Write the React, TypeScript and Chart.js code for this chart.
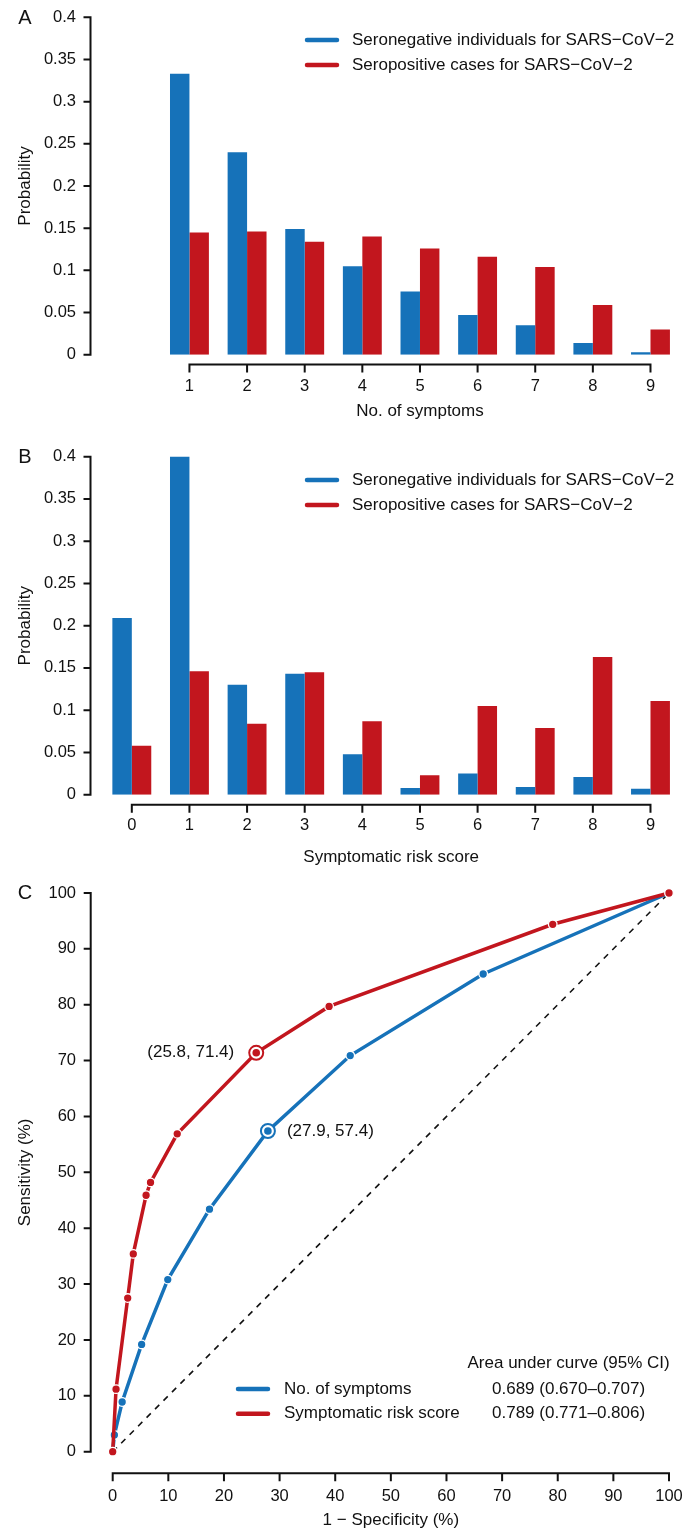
import React, { useEffect, useRef } from 'react';
import { Chart, registerables } from 'chart.js';

Chart.register(...registerables);

// ---------- data ----------
const symptomCategories = ['0', '1', '2', '3', '4', '5', '6', '7', '8', '9'];
const symptomsSeroneg = [null, 0.333, 0.240, 0.149, 0.105, 0.075, 0.047, 0.035, 0.014, 0.003];
const symptomsSeropos = [null, 0.145, 0.146, 0.134, 0.140, 0.126, 0.116, 0.104, 0.059, 0.030];

const scoreCategories = ['0', '1', '2', '3', '4', '5', '6', '7', '8', '9'];
const scoreSeroneg = [0.209, 0.402, 0.130, 0.143, 0.048, 0.008, 0.025, 0.009, 0.021, 0.007];
const scoreSeropos = [0.058, 0.146, 0.084, 0.145, 0.087, 0.023, 0.105, 0.079, 0.163, 0.111];

const probTicks = [0, 0.05, 0.1, 0.15, 0.2, 0.25, 0.3, 0.35, 0.4];

const rocSymptomsX = [0, 0.3, 1.7, 5.2, 9.9, 17.4, 27.9, 42.7, 66.6, 100];
const rocSymptomsY = [0, 3.0, 8.9, 19.2, 30.8, 43.4, 57.4, 70.9, 85.5, 100];
const rocScoreX = [0, 0.6, 2.7, 3.7, 6.0, 6.8, 11.6, 25.8, 38.9, 79.1, 100];
const rocScoreY = [0, 11.2, 27.5, 35.4, 45.9, 48.2, 56.9, 71.4, 79.7, 94.4, 100];
const optimalSymptoms = [27.9, 57.4];
const optimalScore = [25.8, 71.4];
const diagonalX = [0, 100];
const diagonalY = [0, 100];
const rocTicks = [0, 10, 20, 30, 40, 50, 60, 70, 80, 90, 100];

const legendBars = ['Seronegative individuals for SARS\u2212CoV\u22122', 'Seropositive cases for SARS\u2212CoV\u22122'];
const legendRoc = ['No. of symptoms', 'Symptomatic risk score'];
const aucHeader = 'Area under curve (95% CI)';
const aucValues = ['0.689 (0.670\u20130.707)', '0.789 (0.771\u20130.806)'];

// ---------- styles ----------
const BLUE = '#1672B9';
const RED = '#C2161E';
const FONT = '"Liberation Sans", Arial, Helvetica, sans-serif';
const TICK_FS = 16.5;
const FS = 17;
const W = 684;

function axesPlugin(cfg: any) {
  return {
    id: 'rAxes',
    afterDraw(chart: any) {
      const { ctx } = chart;
      const xs = chart.scales.x;
      const ys = chart.scales.y;
      ctx.save();
      ctx.strokeStyle = '#111';
      ctx.lineWidth = 2;
      ctx.lineCap = 'butt';
      const yTop = ys.getPixelForValue(cfg.yTicks[cfg.yTicks.length - 1]);
      const yBot = ys.getPixelForValue(cfg.yTicks[0]);
      ctx.beginPath();
      ctx.moveTo(cfg.yAxisX, yTop - 1);
      ctx.lineTo(cfg.yAxisX, yBot + 1);
      for (const v of cfg.yTicks) {
        const p = ys.getPixelForValue(v);
        ctx.moveTo(cfg.yAxisX - 7, p);
        ctx.lineTo(cfg.yAxisX, p);
      }
      ctx.stroke();
      const xl = xs.getPixelForValue(cfg.xTicks[0]);
      const xr = xs.getPixelForValue(cfg.xTicks[cfg.xTicks.length - 1]);
      ctx.beginPath();
      ctx.moveTo(xl - 1, cfg.xAxisY);
      ctx.lineTo(xr + 1, cfg.xAxisY);
      for (const v of cfg.xTicks) {
        const p = xs.getPixelForValue(v);
        ctx.moveTo(p, cfg.xAxisY);
        ctx.lineTo(p, cfg.xAxisY + 8);
      }
      ctx.stroke();
      // tick labels, from the scales' own ticks
      ctx.fillStyle = '#111';
      ctx.font = `${TICK_FS}px ${FONT}`;
      ctx.textBaseline = 'middle';
      ctx.textAlign = 'right';
      ys.ticks.forEach((t: any, i: number) => {
        const lbl = cfg.yLabel ? cfg.yLabel(t.value) : String(t.label);
        ctx.fillText(lbl, cfg.yLabelRight, ys.getPixelForTick(i));
      });
      ctx.textAlign = 'center';
      xs.ticks.forEach((t: any, i: number) => {
        const v = t.value;
        if (!cfg.xTicks.includes(v)) return;
        const lbl = cfg.xLabel ? cfg.xLabel(v) : String(t.label);
        ctx.fillText(lbl, xs.getPixelForValue(v), cfg.xLabelY);
      });
      ctx.restore();
    },
  };
}

function textPlugin(draw: (chart: any, ctx: CanvasRenderingContext2D) => void) {
  return {
    id: 'extras',
    afterDraw(chart: any) {
      const ctx = chart.ctx;
      ctx.save();
      draw(chart, ctx);
      ctx.restore();
    },
  };
}

function drawCommon(ctx: CanvasRenderingContext2D, letter: string, letterY: number, yTitle: string, yTitleY: number, xTitle: string, xTitleX: number, xTitleY: number) {
  ctx.fillStyle = '#111';
  ctx.font = `20px ${FONT}`;
  ctx.textAlign = 'center';
  ctx.textBaseline = 'middle';
  ctx.fillText(letter, 25, letterY);
  ctx.font = `${FS}px ${FONT}`;
  ctx.fillText(xTitle, xTitleX, xTitleY);
  ctx.save();
  ctx.translate(25, yTitleY);
  ctx.rotate(-Math.PI / 2);
  ctx.fillText(yTitle, 0, 0);
  ctx.restore();
}

function drawLegend(ctx: CanvasRenderingContext2D, items: { label: string; color: string }[], x0: number, x1: number, tx: number, ys: number[]) {
  items.forEach((it, i) => {
    ctx.strokeStyle = it.color;
    ctx.lineWidth = 4.5;
    ctx.lineCap = 'round';
    ctx.beginPath();
    ctx.moveTo(x0 + 2, ys[i]);
    ctx.lineTo(x1 - 2, ys[i]);
    ctx.stroke();
    ctx.fillStyle = '#111';
    ctx.font = `${FS}px ${FONT}`;
    ctx.textAlign = 'left';
    ctx.textBaseline = 'middle';
    ctx.fillText(it.label, tx, ys[i]);
  });
}

const probLabel = (v: any) => String(Math.round(Number(v) * 100) / 100);

function barConfig(opts: {
  categories: string[];
  neg: (number | null)[];
  pos: (number | null)[];
  height: number;
  top: number;
  bottom: number;
  xAxisY: number;
  xLabelY: number;
  firstCat: number;
  letter: string;
  letterY: number;
  xTitle: string;
  xTitleY: number;
  legendYs: number[];
}) {
  const xTicks: number[] = [];
  for (let i = opts.firstCat; i < opts.categories.length; i++) xTicks.push(i);
  return {
    type: 'bar',
    data: {
      labels: opts.categories,
      datasets: [
        { label: legendBars[0], data: opts.neg, backgroundColor: BLUE, borderWidth: 0 },
        { label: legendBars[1], data: opts.pos, backgroundColor: RED, borderWidth: 0 },
      ],
    },
    options: {
      responsive: false,
      animation: false,
      devicePixelRatio: 1,
      layout: { padding: { left: 0, right: 4.7, top: opts.top, bottom: 0 } },
      datasets: { bar: { categoryPercentage: 0.675, barPercentage: 1.0 } },
      plugins: { legend: { display: false }, tooltip: { enabled: false } },
      scales: {
        x: {
          type: 'category',
          offset: true,
          grid: { display: false, drawTicks: false },
          border: { display: false },
          ticks: { display: false, autoSkip: false },
          afterFit: (s: any) => { s.height = opts.height - opts.bottom; },
        },
        y: {
          min: 0,
          max: 0.4,
          grid: { display: false, drawTicks: false },
          border: { display: false },
          ticks: { display: false, stepSize: 0.05, autoSkip: false },
          afterFit: (s: any) => { s.width = 103; },
        },
      },
    },
    plugins: [
      axesPlugin({
        yAxisX: 90.5, yTicks: probTicks, xAxisY: opts.xAxisY, xTicks,
        yLabelRight: 76, xLabelY: opts.xLabelY,
        yLabel: probLabel, xLabel: (i: number) => opts.categories[i],
      }),
      textPlugin((chart, ctx) => {
        const xs = chart.scales.x;
        const cx = (xs.getPixelForValue(xTicks[0]) + xs.getPixelForValue(xTicks[xTicks.length - 1])) / 2;
        const ca = chart.chartArea;
        drawCommon(ctx, opts.letter, opts.letterY, 'Probability', (ca.top + ca.bottom) / 2, opts.xTitle, cx, opts.xTitleY);
        drawLegend(
          ctx,
          chart.data.datasets.map((d: any) => ({ label: d.label, color: d.backgroundColor })),
          305, 339, 352, opts.legendYs
        );
      }),
    ],
  };
}

function rocConfig() {
  const H = 660;
  const pts = (xs: number[], ys: number[]) => xs.map((x, i) => ({ x, y: ys[i] }));
  return {
    type: 'line',
    data: {
      datasets: [
        {
          label: 'innerRed', data: [{ x: optimalScore[0], y: optimalScore[1] }], showLine: false,
          pointRadius: 3.8, pointBackgroundColor: RED, pointBorderWidth: 0, order: 0, clip: false,
        },
        {
          label: 'innerBlue', data: [{ x: optimalSymptoms[0], y: optimalSymptoms[1] }], showLine: false,
          pointRadius: 3.8, pointBackgroundColor: BLUE, pointBorderWidth: 0, order: 0, clip: false,
        },
        {
          label: 'ringRed', data: [{ x: optimalScore[0], y: optimalScore[1] }], showLine: false,
          pointRadius: 7, pointBackgroundColor: '#fff', pointBorderColor: RED, pointBorderWidth: 2, order: 1, clip: false,
        },
        {
          label: 'ringBlue', data: [{ x: optimalSymptoms[0], y: optimalSymptoms[1] }], showLine: false,
          pointRadius: 7, pointBackgroundColor: '#fff', pointBorderColor: BLUE, pointBorderWidth: 2, order: 1, clip: false,
        },
        {
          label: legendRoc[1], data: pts(rocScoreX, rocScoreY), borderColor: RED, backgroundColor: RED,
          borderWidth: 3.5, pointRadius: 4.3, pointBackgroundColor: RED, pointBorderColor: '#fff', pointBorderWidth: 1.3,
          tension: 0, order: 2, clip: false,
        },
        {
          label: legendRoc[0], data: pts(rocSymptomsX, rocSymptomsY), borderColor: BLUE, backgroundColor: BLUE,
          borderWidth: 3.5, pointRadius: 4.3, pointBackgroundColor: BLUE, pointBorderColor: '#fff', pointBorderWidth: 1.3,
          tension: 0, order: 3, clip: false,
        },
        {
          label: 'diagonal', data: pts(diagonalX, diagonalY), borderColor: '#111', borderWidth: 1.6,
          borderDash: [6, 6], pointRadius: 0, order: 4, clip: false,
        },
      ],
    },
    options: {
      responsive: false,
      animation: false,
      devicePixelRatio: 1,
      layout: { padding: { left: 0, right: 15, top: 23, bottom: 0 } },
      plugins: { legend: { display: false }, tooltip: { enabled: false } },
      scales: {
        x: {
          type: 'linear',
          min: 0,
          max: 100,
          grid: { display: false, drawTicks: false },
          border: { display: false },
          ticks: { display: false, stepSize: 10, autoSkip: false },
          afterFit: (s: any) => { s.height = H - 581.7; },
        },
        y: {
          type: 'linear',
          min: 0,
          max: 100,
          grid: { display: false, drawTicks: false },
          border: { display: false },
          ticks: { display: false, stepSize: 10, autoSkip: false },
          afterFit: (s: any) => { s.width = 112.7; },
        },
      },
    },
    plugins: [
      axesPlugin({
        yAxisX: 90.7, yTicks: rocTicks, xAxisY: 603.3, xTicks: rocTicks,
        yLabelRight: 76, xLabelY: 626,
      }),
      textPlugin((chart, ctx) => {
        const xs = chart.scales.x;
        const ys = chart.scales.y;
        const ca = chart.chartArea;
        drawCommon(ctx, 'C', 23, 'Sensitivity (%)', (ca.top + ca.bottom) / 2, '1 \u2212 Specificity (%)', (ca.left + ca.right) / 2, 650);
        ctx.fillStyle = '#111';
        ctx.font = `${FS}px ${FONT}`;
        ctx.textBaseline = 'middle';
        ctx.textAlign = 'right';
        ctx.fillText(`(${optimalScore[0]}, ${optimalScore[1]})`, xs.getPixelForValue(optimalScore[0]) - 22, ys.getPixelForValue(optimalScore[1]));
        ctx.textAlign = 'left';
        ctx.fillText(`(${optimalSymptoms[0]}, ${optimalSymptoms[1]})`, xs.getPixelForValue(optimalSymptoms[0]) + 19, ys.getPixelForValue(optimalSymptoms[1]));
        ctx.fillText(aucHeader, 467.5, 493.4);
        drawLegend(ctx, [
          { label: legendRoc[0], color: BLUE },
          { label: legendRoc[1], color: RED },
        ], 236, 270, 284, [519, 543.7]);
        ctx.fillStyle = '#111';
        ctx.textAlign = 'left';
        ctx.fillText(aucValues[0], 492, 519);
        ctx.fillText(aucValues[1], 492, 543.7);
      }),
    ],
  };
}

function ChartCanvas({ config, height }: { config: () => any; height: number }) {
  const ref = useRef<HTMLCanvasElement | null>(null);
  useEffect(() => {
    if (!ref.current) return;
    const chart = new Chart(ref.current, config());
    return () => chart.destroy();
  }, []);
  return (
    <canvas
      ref={ref}
      width={W}
      height={height}
      style={{ display: 'block', width: W, height }}
    />
  );
}

export default function App() {
  return (
    <div style={{ position: 'absolute', left: 0, top: 0, width: W, height: 1530, background: '#fff' }}>
      <ChartCanvas
        height={425}
        config={() =>
          barConfig({
            categories: symptomCategories,
            neg: symptomsSeroneg,
            pos: symptomsSeropos,
            height: 425,
            top: 17.3,
            bottom: 354.7,
            xAxisY: 364.5,
            xLabelY: 386.7,
            firstCat: 1,
            letter: 'A',
            letterY: 18,
            xTitle: 'No. of symptoms',
            xTitleY: 411,
            legendYs: [40, 65],
          })
        }
      />
      <ChartCanvas
        height={445}
        config={() =>
          barConfig({
            categories: scoreCategories,
            neg: scoreSeroneg,
            pos: scoreSeropos,
            height: 445,
            top: 31.7,
            bottom: 369.7,
            xAxisY: 379.7,
            xLabelY: 400.7,
            firstCat: 0,
            letter: 'B',
            letterY: 32,
            xTitle: 'Symptomatic risk score',
            xTitleY: 432,
            legendYs: [55, 80],
          })
        }
      />
      <ChartCanvas height={660} config={rocConfig} />
    </div>
  );
}
